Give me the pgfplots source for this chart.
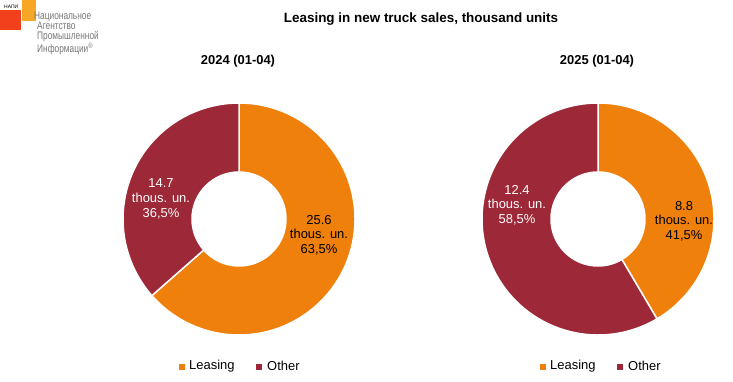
\documentclass[border=0pt]{standalone}
\usepackage{pgfplots}
\pgfplotsset{compat=1.18}
\usepackage{pgfplotstable}
\usepackage{fontspec}
\setmainfont{Liberation Sans}
\definecolor{leas}{HTML}{EF800B}
\definecolor{oth}{HTML}{9D2838}
\definecolor{logored}{HTML}{F2401C}
\definecolor{logoorange}{HTML}{F7A626}
\definecolor{logogray}{HTML}{777777}

\pgfplotstableread{
year leasing other
2024 25.6 14.7
2025 8.8 12.4
}\salestable

\begin{document}%
\pgfplotstablegetelem{0}{leasing}\of\salestable \let\LA\pgfplotsretval%
\pgfplotstablegetelem{0}{other}\of\salestable \let\OA\pgfplotsretval%
\pgfplotstablegetelem{1}{leasing}\of\salestable \let\LB\pgfplotsretval%
\pgfplotstablegetelem{1}{other}\of\salestable \let\OB\pgfplotsretval%
\pgfmathsetmacro\angA{90-360*\LA/(\LA+\OA)}%
\pgfmathsetmacro\angB{90-360*\LB/(\LB+\OB)}%
\begin{tikzpicture}[x=1bp,y=1bp]
\path (0,0) rectangle (733,381);
% logo
\fill[logored] (0,351) rectangle (21,371);
\fill[logoorange] (22,360) rectangle (36,381);
\node[font=\fontsize{5}{5}\selectfont, anchor=west, inner sep=0pt] at (4,374) {НАПИ};
\node[anchor=north west, inner sep=0pt, text=logogray, align=left,
  font=\fontsize{11}{10.2}\selectfont] at (34,369.5)
  {\scalebox{0.76}[1]{Национальное}\\
   \hspace*{3bp}\scalebox{0.76}[1]{Агентство}\\
   \hspace*{3bp}\scalebox{0.76}[1]{Промышленной}\\
   \hspace*{3bp}\scalebox{0.76}[1]{Информации\textsuperscript{\textregistered}}};
% titles
\node[font=\fontsize{13.5}{16}\selectfont\bfseries] at (421,361.5) {Leasing in new truck sales, thousand units};
\node[font=\fontsize{13}{16}\selectfont\bfseries] at (238,319.5) {2024 (01-04)};
\node[font=\fontsize{13}{16}\selectfont\bfseries] at (597,319.5) {2025 (01-04)};
% donut 2024
\begin{axis}[at={(239bp,162bp)}, anchor=center, scale only axis, width=232bp, height=232bp,
  xmin=-1, xmax=1, ymin=-1, ymax=1, hide axis, clip=false]
\fill[leas, draw=white, line width=1.5bp] ([shift={(axis cs:0,0)}]90:116bp) arc[start angle=90, end angle=\angA, radius=116bp]
  -- ([shift={(axis cs:0,0)}]\angA:47bp) arc[start angle=\angA, end angle=90, radius=47bp] -- cycle;
\fill[oth, draw=white, line width=1.5bp] ([shift={(axis cs:0,0)}]\angA:116bp) arc[start angle=\angA, end angle=-270, radius=116bp]
  -- ([shift={(axis cs:0,0)}]-270:47bp) arc[start angle=-270, end angle=\angA, radius=47bp] -- cycle;
\end{axis}
% donut 2025
\begin{axis}[at={(598bp,162bp)}, anchor=center, scale only axis, width=232bp, height=232bp,
  xmin=-1, xmax=1, ymin=-1, ymax=1, hide axis, clip=false]
\fill[leas, draw=white, line width=1.5bp] ([shift={(axis cs:0,0)}]90:116bp) arc[start angle=90, end angle=\angB, radius=116bp]
  -- ([shift={(axis cs:0,0)}]\angB:47bp) arc[start angle=\angB, end angle=90, radius=47bp] -- cycle;
\fill[oth, draw=white, line width=1.5bp] ([shift={(axis cs:0,0)}]\angB:116bp) arc[start angle=\angB, end angle=-270, radius=116bp]
  -- ([shift={(axis cs:0,0)}]-270:47bp) arc[start angle=-270, end angle=\angB, radius=47bp] -- cycle;
\end{axis}
% labels
\begin{scope}[every node/.style={align=center, font=\fontsize{13}{14.7}\selectfont, inner sep=0pt}]
\node at (319,146) {25.6\\thous. un.\\63,5\%};
\node[text=white] at (161,182) {14.7\\thous. un.\\36,5\%};
\node at (684,160) {8.8\\thous. un.\\41,5\%};
\node[text=white] at (517,176) {12.4\\thous. un.\\58,5\%};
\end{scope}
% legends
\begin{scope}[every node/.style={anchor=west, inner sep=0pt, font=\fontsize{13}{14}\selectfont}]
\fill[leas] (179,11) rectangle (185,17); \node at (189,15) {Leasing};
\fill[oth] (256,11) rectangle (262,17); \node at (267,15) {Other};
\fill[leas] (540,11) rectangle (546,17); \node at (550,15) {Leasing};
\fill[oth] (617,11) rectangle (623,17); \node at (628,15) {Other};
\end{scope}
\end{tikzpicture}%
\end{document}
